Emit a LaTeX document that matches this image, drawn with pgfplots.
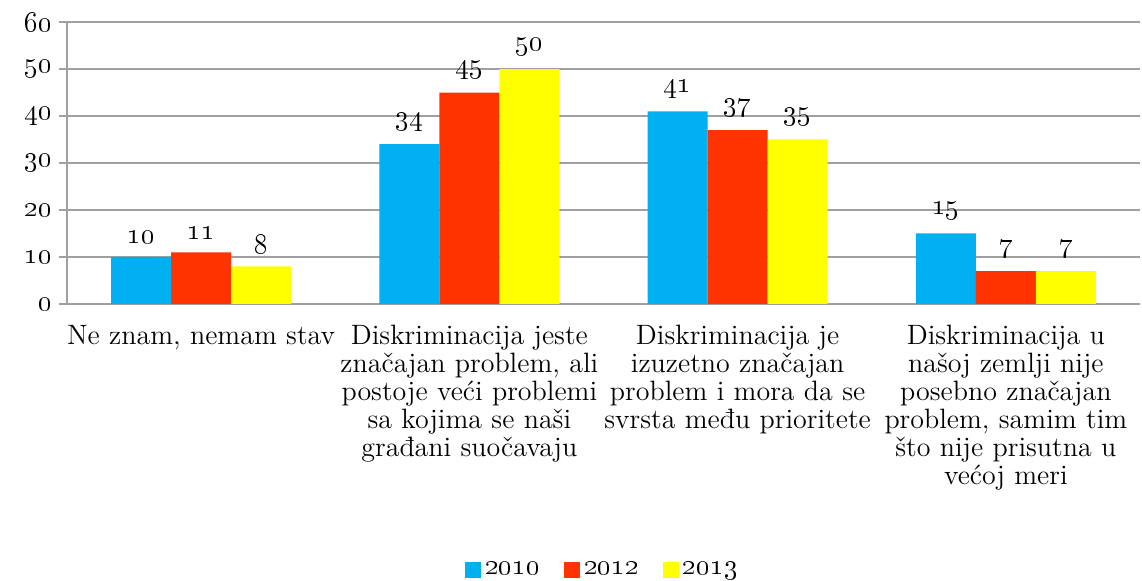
\documentclass[border=0pt]{standalone}
\usepackage{pgfplots}
\pgfplotsset{compat=1.18}
\definecolor{cblue}{HTML}{00B0F0}
\definecolor{cred}{HTML}{FF3300}
\definecolor{cyel}{HTML}{FFFF00}
\definecolor{gridc}{HTML}{A0A0A0}
\begin{document}
\begin{tikzpicture}
\path[use as bounding box] (-33.5pt,-138.5pt) rectangle (537.5pt,152pt);
\begin{axis}[
  at={(0,0)}, anchor=south west,
  scale only axis, width=536.5pt, height=141pt,
  ybar=0pt, bar width=30pt,
  xmin=-0.5, xmax=3.5, ymin=0, ymax=60,
  xtick={0,1,2,3},
  xticklabels={{Ne znam, nemam stav},
    {Diskriminacija jeste\\značajan problem, ali\\postoje veći problemi\\sa kojima se naši\\građani suočavaju},
    {Diskriminacija je\\izuzetno značajan\\problem i mora da se\\svrsta među prioritete},
    {Diskriminacija u\\našoj zemlji nije\\posebno značajan\\problem, samim tim\\što nije prisutna u\\većoj meri}},
  x tick label style={align=center, text width=160pt, font=\fontsize{14}{14}\selectfont, anchor=north, yshift=-3pt},
  major x tick style={draw=none},
  extra x ticks={-0.5,0.5,1.5,2.5,3.5},
  extra x tick labels={},
  extra x tick style={major tick length=4pt, tick align=outside, tick style={draw=gridc, thick}, grid=none},
  ytick={0,10,20,30,40,50,60},
  yticklabels={\oldstylenums{0},\oldstylenums{10},\oldstylenums{20},\oldstylenums{30},\oldstylenums{40},\oldstylenums{50},\oldstylenums{60}},
  y tick label style={font=\fontsize{15}{17}\selectfont},
  ymajorgrids, grid style={draw=gridc, thick},
  major y tick style={draw=gridc, thick}, tick align=outside, major tick length=4pt,
  axis x line*=bottom, axis y line*=left,
  axis line style={draw=gridc, thick, -},
  /pgf/number format/assume math mode=true,
  nodes near coords={\oldstylenums{\pgfmathprintnumber{\pgfplotspointmeta}}},
  nodes near coords style={font=\fontsize{15}{17}\selectfont, yshift=3pt},
  legend style={at={(0.5,-0.943)}, anchor=center, draw=none, legend columns=-1,
    font=\fontsize{15}{17}\selectfont, /tikz/every even column/.append style={column sep=10pt}},
  legend image code/.code={\fill[#1] (0pt,-4pt) rectangle (8pt,4pt);},
  clip=false,
]
\addplot[fill=cblue, draw=none] coordinates {(0,10) (1,34) (2,41) (3,15)};
\addplot[fill=cred, draw=none] coordinates {(0,11) (1,45) (2,37) (3,7)};
\addplot[fill=cyel, draw=none] coordinates {(0,8) (1,50) (2,35) (3,7)};
\legend{\oldstylenums{2010},\oldstylenums{2012},\oldstylenums{2013}}
\end{axis}
\end{tikzpicture}
\end{document}
